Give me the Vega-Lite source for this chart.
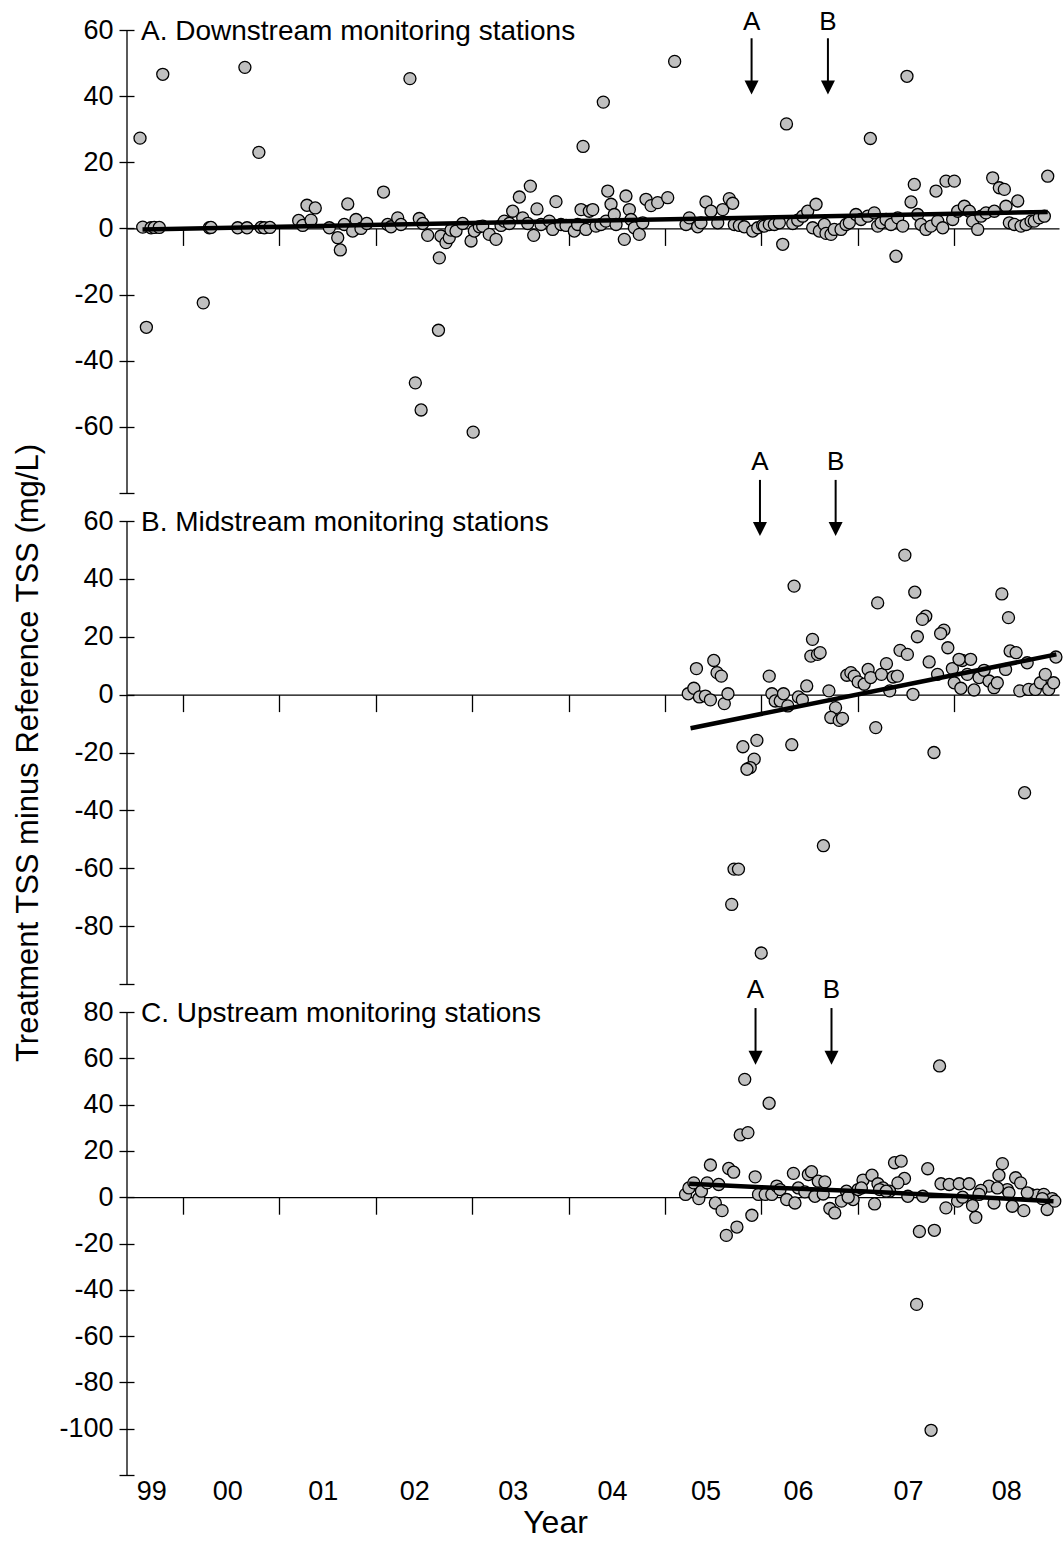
{
  "$schema": "https://vega.github.io/schema/vega-lite/v6.json",
  "background": "white",
  "padding": {"left": 11, "top": 8, "right": 0, "bottom": 0},
  "autosize": {"type": "pad"},
  "bounds": "flush",
  "spacing": 28,
  "config": {
    "font": "Liberation Sans",
    "view": {"stroke": null},
    "axis": {"grid": false, "domainColor": "#000", "tickColor": "#000", "labelColor": "#000", "titleColor": "#000", "labelFont": "Liberation Sans", "titleFont": "Liberation Sans", "titleFontWeight": "normal", "domainWidth": 1.3, "tickWidth": 1.3, "labelFlush": false, "labelOverlap": false},
    "text": {"font": "Liberation Sans", "color": "#000"}
  },
  "datasets": {
    "ptsA": [
      {"t":1999.554,"v":27.3},{"t":1999.62,"v":-29.9},{"t":1999.79,"v":46.6},{"t":2000.21,"v":-22.5},{"t":2000.642,"v":48.7},{"t":2000.787,"v":23.0},{"t":2002.354,"v":45.3},{"t":2002.41,"v":-46.7},{"t":2002.47,"v":-54.9},{"t":2002.65,"v":-30.8},{"t":2003.01,"v":-61.6},{"t":2004.15,"v":24.8},{"t":2004.36,"v":38.2},{"t":2005.10,"v":50.5},{"t":2006.26,"v":31.6},{"t":2007.13,"v":27.2},{"t":2007.51,"v":46.0},
      {"t":1999.582,"v":0.4},{"t":1999.668,"v":0.2},{"t":1999.702,"v":0.3},{"t":1999.754,"v":0.3},{"t":2000.273,"v":0.2},{"t":2000.29,"v":0.3},{"t":2000.567,"v":0.2},{"t":2000.664,"v":0.2},{"t":2000.809,"v":0.3},{"t":2000.843,"v":0.2},{"t":2000.902,"v":0.3},{"t":2001.2,"v":2.4},{"t":2001.242,"v":0.9},{"t":2001.286,"v":7.0},{"t":2001.372,"v":6.2},{"t":2001.328,"v":2.5},{"t":2001.518,"v":0.2},{"t":2001.605,"v":-2.8},{"t":2001.632,"v":-6.5},{"t":2001.709,"v":7.4},{"t":2001.673,"v":1.2},{"t":2001.76,"v":-0.8},{"t":2001.795,"v":2.7},{"t":2001.846,"v":0.0},{"t":2001.906,"v":1.5},{"t":2002.08,"v":11.0},{"t":2002.123,"v":1.2},{"t":2002.158,"v":0.5},{"t":2002.227,"v":3.2},{"t":2002.261,"v":1.2},{"t":2002.451,"v":3.0},{"t":2002.487,"v":1.5},{"t":2002.538,"v":-2.1},{"t":2002.659,"v":-8.9},{"t":2002.676,"v":-2.3},{"t":2002.728,"v":-4.3},{"t":2002.762,"v":-2.8},{"t":2002.78,"v":-0.5},
      {"t":2002.832,"v":-0.8},{"t":2002.901,"v":1.5},{"t":2002.988,"v":-3.8},{"t":2003.022,"v":-0.8},{"t":2003.074,"v":0.5},{"t":2003.109,"v":0.7},{"t":2003.177,"v":-1.8},{"t":2003.247,"v":-3.3},{"t":2003.299,"v":0.9},{"t":2003.333,"v":2.2},{"t":2003.385,"v":1.5},{"t":2003.42,"v":5.2},{"t":2003.489,"v":9.5},{"t":2003.603,"v":12.8},{"t":2003.524,"v":3.2},{"t":2003.576,"v":1.5},{"t":2003.638,"v":-2.1},{"t":2003.672,"v":5.9},{"t":2003.714,"v":1.2},{"t":2003.8,"v":2.2},{"t":2003.835,"v":-0.3},{"t":2003.869,"v":8.1},{"t":2003.921,"v":1.2},{"t":2003.973,"v":0.9},{"t":2004.059,"v":-0.8},{"t":2004.094,"v":1.2},{"t":2004.129,"v":5.7},{"t":2004.18,"v":-0.3},{"t":2004.215,"v":5.2},{"t":2004.25,"v":5.7},{"t":2004.284,"v":0.7},{"t":2004.336,"v":1.2},{"t":2004.388,"v":2.2},{"t":2004.406,"v":11.3},{"t":2004.44,"v":7.3},{"t":2004.474,"v":4.2},{"t":2004.492,"v":1.2},{"t":2004.578,"v":-3.3},{"t":2004.595,"v":9.8},{"t":2004.63,"v":5.7},{"t":2004.647,"v":2.7},{"t":2004.682,"v":0.2},{"t":2004.733,"v":-1.8},{"t":2004.769,"v":1.7},{"t":2004.803,"v":8.8},{"t":2004.855,"v":6.9},{"t":2004.924,"v":7.8},{"t":2005.028,"v":9.3},{"t":2005.218,"v":1.2},{"t":2005.252,"v":3.2},{"t":2005.339,"v":0.5},{"t":2005.373,"v":1.7},{"t":2005.425,"v":8.0},{"t":2005.477,"v":5.2},{"t":2005.547,"v":1.7},{"t":2005.599,"v":5.7},{"t":2005.667,"v":9.0},{"t":2005.702,"v":7.6},{"t":2005.719,"v":1.2},{"t":2005.771,"v":0.9},{"t":2005.822,"v":0.5},{"t":2005.91,"v":-0.8},{"t":2005.962,"v":0.2},{"t":2006.013,"v":0.9},
      {"t":2006.03,"v":0.7},{"t":2006.082,"v":1.2},{"t":2006.134,"v":1.2},{"t":2006.186,"v":1.7},{"t":2006.221,"v":-4.8},{"t":2006.325,"v":1.5},{"t":2006.377,"v":2.5},{"t":2006.428,"v":3.7},{"t":2006.48,"v":5.2},{"t":2006.567,"v":7.3},{"t":2006.532,"v":0.2},{"t":2006.601,"v":-0.8},{"t":2006.653,"v":1.2},{"t":2006.67,"v":-1.5},{"t":2006.722,"v":-1.8},{"t":2006.756,"v":-0.3},{"t":2006.826,"v":-0.3},{"t":2006.878,"v":1.2},{"t":2006.912,"v":1.7},{"t":2006.981,"v":4.2},{"t":2007.033,"v":2.7},{"t":2007.103,"v":3.7},{"t":2007.171,"v":4.7},{"t":2007.206,"v":0.7},{"t":2007.241,"v":1.7},{"t":2007.293,"v":2.7},{"t":2007.344,"v":1.2},{"t":2007.396,"v":-8.4},{"t":2007.414,"v":3.2},{"t":2007.466,"v":0.7},{"t":2007.552,"v":8.0},{"t":2007.586,"v":13.3},{"t":2007.621,"v":4.2},{"t":2007.656,"v":1.2},{"t":2007.707,"v":-0.3},{"t":2007.759,"v":0.7},{"t":2007.811,"v":11.3},{"t":2007.829,"v":2.2},{"t":2007.881,"v":0.2},{"t":2007.915,"v":14.3},{"t":2008.001,"v":14.3},{"t":2007.984,"v":2.7},{"t":2008.036,"v":5.2},{"t":2008.105,"v":6.7},{"t":2008.157,"v":5.2},{"t":2008.191,"v":2.2},{"t":2008.244,"v":-0.3},{"t":2008.278,"v":3.7},{"t":2008.33,"v":4.7},{"t":2008.399,"v":15.3},{"t":2008.416,"v":5.2},{"t":2008.468,"v":12.3},{"t":2008.52,"v":11.8},{"t":2008.537,"v":6.7},{"t":2008.572,"v":1.7},{"t":2008.624,"v":1.2},{"t":2008.659,"v":8.3},{"t":2008.693,"v":0.7},{"t":2008.745,"v":1.2},{"t":2008.797,"v":2.2},{"t":2008.831,"v":2.2},{"t":2008.883,"v":3.2},{"t":2008.935,"v":3.7},{"t":2008.97,"v":15.8}
    ],
    "ptsB": [
      {"t":2007.488,"v":48.2},{"t":2006.339,"v":37.5},{"t":2007.206,"v":31.7},{"t":2007.591,"v":35.4},{"t":2008.494,"v":34.8},{"t":2008.563,"v":26.6},{"t":2007.705,"v":27.1},{"t":2007.67,"v":26.0},{"t":2007.618,"v":20.0},{"t":2007.893,"v":22.3},{"t":2007.859,"v":21.1},{"t":2007.934,"v":16.2},{"t":2006.53,"v":19.1},{"t":2006.513,"v":13.3},{"t":2006.582,"v":13.9},{"t":2006.609,"v":14.5},{"t":2007.438,"v":15.3},{"t":2007.514,"v":13.9},{"t":2008.58,"v":15.1},{"t":2008.642,"v":14.5},{"t":2009.055,"v":13.0},{"t":2008.757,"v":11.0},{"t":2007.74,"v":11.3},{"t":2007.827,"v":7.0},{"t":2007.981,"v":9.0},{"t":2008.084,"v":11.8},{"t":2008.17,"v":12.2},{"t":2008.136,"v":7.0},{"t":2008.0,"v":4.1},{"t":2008.069,"v":2.2},{"t":2008.206,"v":1.6},{"t":2008.258,"v":5.9},{"t":2008.31,"v":8.4},{"t":2008.361,"v":4.7},{"t":2008.413,"v":2.4},{"t":2008.447,"v":4.1},{"t":2008.533,"v":8.7},{"t":2008.68,"v":1.3},{"t":2008.773,"v":1.8},{"t":2008.842,"v":1.8},{"t":2008.894,"v":4.1},{"t":2008.945,"v":7.0},{"t":2008.98,"v":1.8},{"t":2009.031,"v":4.1},
      {"t":2005.241,"v":0.3},{"t":2005.299,"v":2.2},{"t":2005.326,"v":9.0},{"t":2005.357,"v":-0.8},{"t":2005.419,"v":-0.5},{"t":2005.471,"v":-1.8},{"t":2005.506,"v":11.8},{"t":2005.54,"v":7.6},{"t":2005.584,"v":6.4},{"t":2005.615,"v":-3.1},{"t":2005.653,"v":0.3},{"t":2005.808,"v":-18.0},{"t":2005.953,"v":-15.8},{"t":2005.925,"v":-22.3},{"t":2005.884,"v":-25.2},{"t":2005.85,"v":-25.8},{"t":2006.081,"v":6.4},{"t":2006.109,"v":0.3},{"t":2006.143,"v":-2.2},{"t":2006.195,"v":-2.2},{"t":2006.229,"v":0.3},{"t":2006.274,"v":-3.9},{"t":2006.315,"v":-17.3},{"t":2006.384,"v":-0.8},{"t":2006.425,"v":-1.8},{"t":2006.47,"v":3.0},{"t":2006.7,"v":1.3},{"t":2006.769,"v":-4.5},{"t":2006.72,"v":-7.9},{"t":2006.807,"v":-8.9},{"t":2006.841,"v":-8.2},{"t":2006.886,"v":6.7},{"t":2006.928,"v":7.6},{"t":2006.963,"v":6.4},{"t":2007.004,"v":4.4},{"t":2007.066,"v":3.6},{"t":2007.107,"v":8.7},{"t":2007.134,"v":5.9},{"t":2007.186,"v":-11.4},{"t":2007.245,"v":7.0},{"t":2007.297,"v":10.7},{"t":2007.331,"v":1.3},{"t":2007.366,"v":6.1},{"t":2007.41,"v":6.4},{"t":2007.572,"v":0.1},{"t":2007.79,"v":-20.0},{"t":2008.05,"v":12.2},
      {"t":2008.73,"v":-33.9},{"t":2006.643,"v":-52.2},{"t":2005.716,"v":-60.3},{"t":2005.762,"v":-60.3},{"t":2005.692,"v":-72.5},{"t":2005.998,"v":-89.3}
    ],
    "ptsC": [
      {"t":2005.78,"v":26.9},{"t":2005.86,"v":27.9},{"t":2005.471,"v":13.9},{"t":2005.661,"v":12.4},{"t":2005.712,"v":10.8},{"t":2005.935,"v":8.8},{"t":2006.332,"v":10.3},{"t":2006.487,"v":9.8},{"t":2006.52,"v":11.0},{"t":2006.59,"v":6.9},{"t":2006.658,"v":6.6},{"t":2007.381,"v":14.9},{"t":2007.45,"v":15.6},{"t":2007.484,"v":8.1},{"t":2007.416,"v":6.2},{"t":2007.725,"v":12.3},{"t":2007.054,"v":7.4},{"t":2007.147,"v":9.5},{"t":2007.209,"v":5.8},{"t":2007.261,"v":4.0},{"t":2007.329,"v":2.6},{"t":2008.5,"v":14.5},{"t":2008.464,"v":9.5},{"t":2008.361,"v":4.8},{"t":2008.637,"v":8.4},{"t":2008.689,"v":6.2},{"t":2007.863,"v":5.8},{"t":2007.948,"v":5.5},{"t":2008.052,"v":5.8},{"t":2008.155,"v":5.8},{"t":2008.276,"v":2.9},{"t":2007.914,"v":-4.6},{"t":2008.035,"v":-1.7},{"t":2008.19,"v":-3.6},{"t":2008.224,"v":-8.7},{"t":2008.413,"v":-2.5},{"t":2008.551,"v":3.3},{"t":2008.603,"v":-3.9},{"t":2008.722,"v":-5.8},{"t":2008.792,"v":1.2},{"t":2008.861,"v":0.9},{"t":2008.929,"v":1.2},{"t":2008.964,"v":-5.3},{"t":2009.016,"v":-0.6},{"t":2009.043,"v":-1.7},{"t":2007.639,"v":-14.8},{"t":2007.794,"v":-14.3},{"t":2007.519,"v":0.4},{"t":2007.674,"v":0.4},
      {"t":2005.213,"v":1.2},{"t":2005.248,"v":4.0},{"t":2005.299,"v":6.2},{"t":2005.351,"v":-0.6},{"t":2005.378,"v":2.6},{"t":2005.437,"v":6.2},{"t":2005.522,"v":-2.5},{"t":2005.557,"v":5.5},{"t":2005.592,"v":-5.8},{"t":2005.636,"v":-16.5},{"t":2005.746,"v":-12.9},{"t":2005.901,"v":-7.8},{"t":2005.97,"v":1.2},{"t":2006.039,"v":1.2},{"t":2006.108,"v":1.2},{"t":2006.159,"v":4.8},{"t":2006.193,"v":3.3},{"t":2006.262,"v":-1.0},{"t":2006.348,"v":-2.5},{"t":2006.383,"v":4.0},{"t":2006.451,"v":2.3},{"t":2006.555,"v":0.4},{"t":2006.641,"v":1.4},{"t":2006.71,"v":-4.9},{"t":2006.761,"v":-6.8},{"t":2006.83,"v":-1.7},{"t":2006.882,"v":2.6},{"t":2006.951,"v":-1.0},{"t":2007.003,"v":3.3},{"t":2007.174,"v":-2.9},{"t":2008.087,"v":0.0},{"t":2008.258,"v":1.2},{"t":2008.448,"v":4.0},{"t":2008.568,"v":1.9},{"t":2008.758,"v":1.9},{"t":2008.913,"v":-0.6},{"t":2006.9,"v":0.0},{"t":2007.037,"v":4.0},{"t":2007.226,"v":3.3},{"t":2007.295,"v":2.6},
      {"t":2005.827,"v":50.9},{"t":2006.08,"v":40.6},{"t":2007.848,"v":56.7},{"t":2007.61,"v":-46.3},{"t":2007.76,"v":-100.7}
    ],
    "trendA": [{"t":1999.58,"v":-0.3},{"t":2008.97,"v":5.0}],
    "trendB": [{"t":2005.265,"v":-11.6},{"t":2009.06,"v":13.9}],
    "trendC": [{"t":2005.25,"v":5.8},{"t":2006.0,"v":4.3},{"t":2007.04,"v":2.6},{"t":2008.07,"v":0.4},{"t":2009.03,"v":-1.7}],
    "arrA": [{"label":"A","t":2005.898,"top":57.5,"head":42.6,"lab":62.5},{"label":"B","t":2006.69,"top":57.5,"head":42.6,"lab":62.5}],
    "arrB": [{"label":"A","t":2005.985,"top":74.2,"head":57.2,"lab":80.4},{"label":"B","t":2006.77,"top":74.2,"head":57.2,"lab":80.4}],
    "arrC": [{"label":"A","t":2005.939,"top":81.7,"head":60.2,"lab":89.4},{"label":"B","t":2006.727,"top":81.7,"head":60.2,"lab":89.4}]
  },
  "vconcat": [
    {
      "width": 932, "height": 463,
      "resolve": {"axis": {"x": "independent", "y": "independent"}},
      "layer": [
        {
          "data": {"name": "ptsA"},
          "mark": {"type": "circle", "size": 145, "fill": "#c0c0c0", "stroke": "#000", "strokeWidth": 1.3, "opacity": 1},
          "encoding": {
            "x": {"field": "t", "type": "quantitative", "scale": {"domain": [1999.419, 2009.087], "nice": false, "zero": false},
                  "axis": {"orient": "bottom", "offset": -264.57, "values": [2000,2001,2002,2003,2004,2005,2006,2007,2008], "tickSize": 17, "labels": false, "title": null, "zindex": 0}},
            "y": {"field": "v", "type": "quantitative", "scale": {"domain": [-80, 60], "nice": false, "zero": false},
                  "axis": {"orient": "left", "offset": -7, "domain": false, "values": [60,40,20,0,-20,-40,-60,-80], "tickSize": 15, "labelPadding": 6, "labelFontSize": 27, "labelExpr": "datum.value == -80 ? '' : '' + datum.value", "title": null, "zindex": 0}}
          }
        },
        {"data": {"values": [{}]}, "mark": {"type": "rule", "color": "#000", "strokeWidth": 1.3}, "encoding": {"x": {"datum": 1999.419, "type": "quantitative", "axis": null}}},
        {"data": {"name": "trendA"}, "mark": {"type": "line", "color": "#000", "strokeWidth": 4.5}, "encoding": {"x": {"field": "t", "type": "quantitative", "axis": null}, "y": {"field": "v", "type": "quantitative", "axis": null}}},
        {"data": {"name": "arrA"}, "mark": {"type": "rule", "color": "#000", "strokeWidth": 2}, "encoding": {"x": {"field": "t", "type": "quantitative", "axis": null}, "y": {"field": "top", "type": "quantitative", "axis": null}, "y2": {"field": "head"}}},
        {"data": {"name": "arrA"}, "mark": {"type": "point", "shape": "M-1,-1L1,-1L0,1Z", "filled": true, "color": "#000", "size": 196, "opacity": 1}, "encoding": {"x": {"field": "t", "type": "quantitative", "axis": null}, "y": {"field": "head", "type": "quantitative", "axis": null}}},
        {"data": {"name": "arrA"}, "mark": {"type": "text", "fontSize": 26, "baseline": "middle", "align": "center"}, "encoding": {"x": {"field": "t", "type": "quantitative", "axis": null}, "y": {"field": "lab", "type": "quantitative", "axis": null}, "text": {"field": "label"}}},
        {"data": {"values": [{}]}, "mark": {"type": "text", "text": "A. Downstream monitoring stations", "fontSize": 28, "align": "left", "baseline": "middle", "dy": 2}, "encoding": {"x": {"datum": 1999.564, "type": "quantitative", "axis": null}, "y": {"datum": 60, "type": "quantitative", "axis": null}}}
      ]
    },
    {
      "width": 932, "height": 463,
      "resolve": {"axis": {"x": "independent", "y": "independent"}},
      "layer": [
        {
          "data": {"name": "ptsB"},
          "mark": {"type": "circle", "size": 145, "fill": "#c0c0c0", "stroke": "#000", "strokeWidth": 1.3, "opacity": 1},
          "encoding": {
            "x": {"field": "t", "type": "quantitative", "scale": {"domain": [1999.419, 2009.087], "nice": false, "zero": false},
                  "axis": {"orient": "bottom", "offset": -289.375, "values": [2000,2001,2002,2003,2004,2005,2006,2007,2008], "tickSize": 17, "labels": false, "title": null, "zindex": 0}},
            "y": {"field": "v", "type": "quantitative", "scale": {"domain": [-100, 60], "nice": false, "zero": false},
                  "axis": {"orient": "left", "offset": -7, "domain": false, "values": [60,40,20,0,-20,-40,-60,-80,-100], "tickSize": 15, "labelPadding": 6, "labelFontSize": 27, "labelExpr": "datum.value == -100 ? '' : '' + datum.value", "title": "Treatment TSS minus Reference TSS (mg/L)", "titleFontSize": 31, "titleFontWeight": "normal", "titleBaseline": "alphabetic", "titleAngle": 270, "titleX": -97, "zindex": 0}}
          }
        },
        {"data": {"values": [{}]}, "mark": {"type": "rule", "color": "#000", "strokeWidth": 1.3}, "encoding": {"x": {"datum": 1999.419, "type": "quantitative", "axis": null}}},
        {"data": {"name": "trendB"}, "mark": {"type": "line", "color": "#000", "strokeWidth": 4.5}, "encoding": {"x": {"field": "t", "type": "quantitative", "axis": null}, "y": {"field": "v", "type": "quantitative", "axis": null}}},
        {"data": {"name": "arrB"}, "mark": {"type": "rule", "color": "#000", "strokeWidth": 2}, "encoding": {"x": {"field": "t", "type": "quantitative", "axis": null}, "y": {"field": "top", "type": "quantitative", "axis": null}, "y2": {"field": "head"}}},
        {"data": {"name": "arrB"}, "mark": {"type": "point", "shape": "M-1,-1L1,-1L0,1Z", "filled": true, "color": "#000", "size": 196, "opacity": 1}, "encoding": {"x": {"field": "t", "type": "quantitative", "axis": null}, "y": {"field": "head", "type": "quantitative", "axis": null}}},
        {"data": {"name": "arrB"}, "mark": {"type": "text", "fontSize": 26, "baseline": "middle", "align": "center"}, "encoding": {"x": {"field": "t", "type": "quantitative", "axis": null}, "y": {"field": "lab", "type": "quantitative", "axis": null}, "text": {"field": "label"}}},
        {"data": {"values": [{}]}, "mark": {"type": "text", "text": "B. Midstream monitoring stations", "fontSize": 28, "align": "left", "baseline": "middle", "dy": 2}, "encoding": {"x": {"datum": 1999.564, "type": "quantitative", "axis": null}, "y": {"datum": 60, "type": "quantitative", "axis": null}}}
      ]
    },
    {
      "width": 932, "height": 463,
      "resolve": {"axis": {"x": "independent", "y": "independent"}},
      "layer": [
        {
          "data": {"name": "ptsC"},
          "mark": {"type": "circle", "size": 145, "fill": "#c0c0c0", "stroke": "#000", "strokeWidth": 1.3, "opacity": 1},
          "encoding": {
            "x": {"field": "t", "type": "quantitative", "scale": {"domain": [1999.419, 2009.087], "nice": false, "zero": false},
                  "axis": {"orient": "bottom", "offset": -277.8, "values": [2000,2001,2002,2003,2004,2005,2006,2007,2008], "tickSize": 17, "labels": false, "title": null, "zindex": 0}},
            "y": {"field": "v", "type": "quantitative", "scale": {"domain": [-120, 80], "nice": false, "zero": false},
                  "axis": {"orient": "left", "offset": -7, "domain": false, "values": [80,60,40,20,0,-20,-40,-60,-80,-100,-120], "tickSize": 15, "labelPadding": 6, "labelFontSize": 27, "labelExpr": "datum.value == -120 ? '' : '' + datum.value", "title": null, "zindex": 0}}
          }
        },
        {"data": {"values": [{}]}, "mark": {"type": "rule", "color": "#000", "strokeWidth": 1.3}, "encoding": {"x": {"datum": 1999.419, "type": "quantitative", "axis": null}}},
        {"data": {"name": "trendC"}, "mark": {"type": "line", "color": "#000", "strokeWidth": 4.5}, "encoding": {
          "x": {"field": "t", "type": "quantitative", "axis": {"orient": "bottom", "offset": 0, "domain": false, "ticks": false, "tickSize": 0, "values": [1999.67, 2000.46, 2001.45, 2002.4, 2003.42, 2004.45, 2005.42, 2006.38, 2007.52, 2008.54], "labelExpr": "format(floor(datum.value) % 100, '02d')", "labelFontSize": 27, "labelBaseline": "alphabetic", "labelPadding": 24, "title": "Year", "titleFontSize": 32, "titleFontWeight": "normal", "titleBaseline": "alphabetic", "titleX": 428, "titleY": 57, "zindex": 0}},
          "y": {"field": "v", "type": "quantitative", "axis": null}}},
        {"data": {"name": "arrC"}, "mark": {"type": "rule", "color": "#000", "strokeWidth": 2}, "encoding": {"x": {"field": "t", "type": "quantitative", "axis": null}, "y": {"field": "top", "type": "quantitative", "axis": null}, "y2": {"field": "head"}}},
        {"data": {"name": "arrC"}, "mark": {"type": "point", "shape": "M-1,-1L1,-1L0,1Z", "filled": true, "color": "#000", "size": 196, "opacity": 1}, "encoding": {"x": {"field": "t", "type": "quantitative", "axis": null}, "y": {"field": "head", "type": "quantitative", "axis": null}}},
        {"data": {"name": "arrC"}, "mark": {"type": "text", "fontSize": 26, "baseline": "middle", "align": "center"}, "encoding": {"x": {"field": "t", "type": "quantitative", "axis": null}, "y": {"field": "lab", "type": "quantitative", "axis": null}, "text": {"field": "label"}}},
        {"data": {"values": [{}]}, "mark": {"type": "text", "text": "C. Upstream monitoring stations", "fontSize": 28, "align": "left", "baseline": "middle", "dy": 2}, "encoding": {"x": {"datum": 1999.564, "type": "quantitative", "axis": null}, "y": {"datum": 80, "type": "quantitative", "axis": null}}}
      ]
    }
  ]
}
